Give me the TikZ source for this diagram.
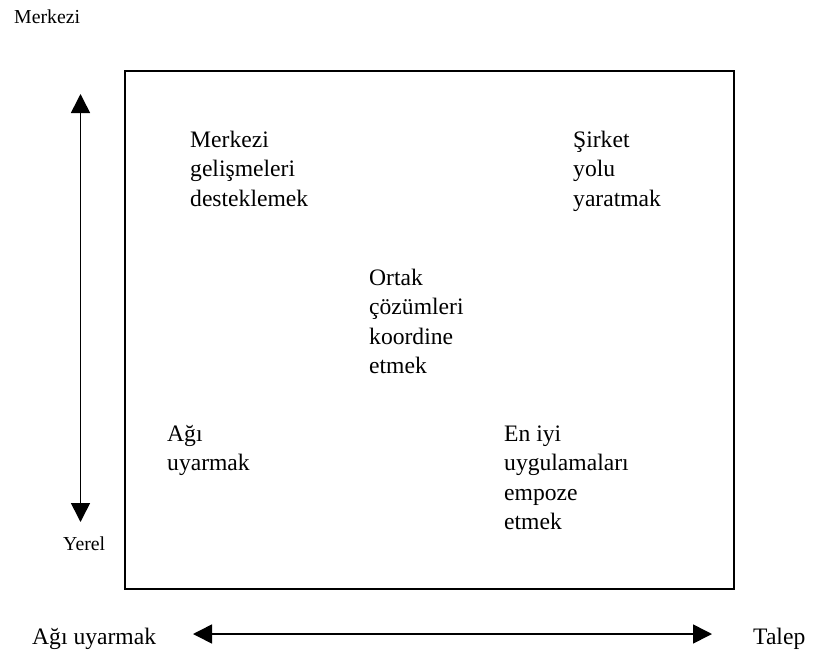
\documentclass[tikz,border=0pt]{standalone}
\usepackage{fontspec}
\setmainfont{Liberation Serif}
\usetikzlibrary{arrows.meta}
\begin{document}
\begin{tikzpicture}[x=1pt,y=-1pt,
  big/.style={font=\fontsize{23.6}{29.5}\selectfont, anchor=base west, inner sep=0pt, align=left},
  small/.style={font=\fontsize{19.8}{24}\selectfont, anchor=base west, inner sep=0pt},
  frame/.style={draw=black, line width=2pt},
  axis/.style={line width=1.6pt, {Triangle[length=19pt,width=19pt]}-{Triangle[length=19pt,width=19pt]}}]
  \useasboundingbox (0,0) rectangle (814,651);

  % axis labels
  \node[small] (top) at (14,23) {Merkezi};
  \node[small] (bottom) at (63,550) {Yerel};
  \node[big] (left) at (32,644) {Ağı uyarmak};
  \node[big] (right) at (753,644) {Talep};

  % frame
  \draw[frame] (125,71) rectangle (734,589);

  % axes
  \coordinate (vtop) at (80.5,94);
  \coordinate (vbot) at (80.5,522);
  \coordinate (hl) at (193,634);
  \coordinate (hr) at (712,634);
  \draw[axis] (vtop) -- (vbot);
  \draw[axis] (hl) -- (hr);

  % quadrant texts (placed by the baseline of their last line)
  \node[big] (q1) at (190,206) {Merkezi\\gelişmeleri\\desteklemek};
  \node[big] (q2) at (573,206) {Şirket\\yolu\\yaratmak};
  \node[big] (q3) at (369,373.5) {Ortak\\çözümleri\\koordine\\etmek};
  \node[big] (q4) at (167,470.5) {Ağı\\uyarmak};
  \node[big] (q5) at (504,529.5) {En iyi\\uygulamaları\\empoze\\etmek};
\end{tikzpicture}
\end{document}
